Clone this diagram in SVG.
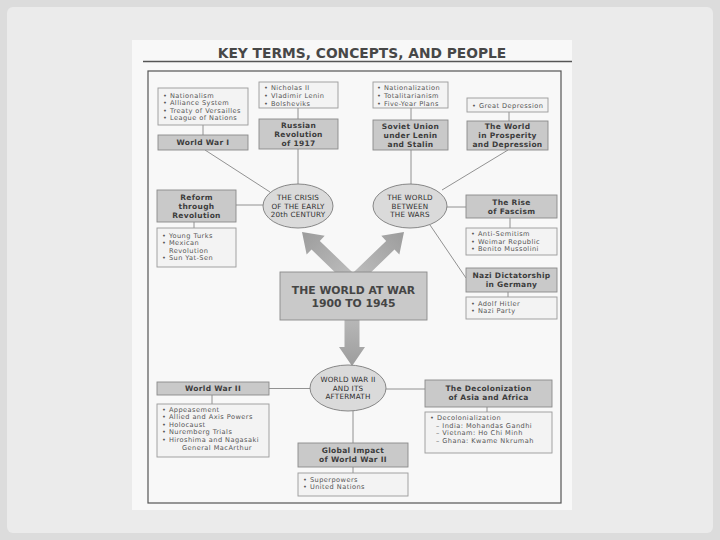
<svg xmlns="http://www.w3.org/2000/svg" width="720" height="540" viewBox="0 0 720 540">
<style>
.lt{font-family:"DejaVu Sans","Liberation Sans",sans-serif;font-size:6.6px;fill:#555;letter-spacing:0.45px}
.tt{font-family:"DejaVu Sans","Liberation Sans",sans-serif;font-weight:bold;font-size:7.5px;fill:#3c3c3c;text-anchor:middle;letter-spacing:0.3px}
.et{font-family:"DejaVu Sans","Liberation Sans",sans-serif;font-size:7.2px;fill:#2e2e2e;text-anchor:middle;letter-spacing:0.2px}
.ct{font-family:"DejaVu Sans","Liberation Sans",sans-serif;font-weight:bold;font-size:10.8px;fill:#454545;text-anchor:middle}
.tb{fill:#c9c9c9;stroke:#8a8a8a;stroke-width:0.9}
.lb{fill:#f3f3f3;stroke:#9a9a9a;stroke-width:0.9}
.el{fill:#dadada;stroke:#7a7a7a;stroke-width:0.9}
.cn line{stroke:#777;stroke-width:0.8}
</style>
<defs>
<linearGradient id="ag" x1="0" y1="0" x2="0" y2="1">
<stop offset="0" stop-color="#9c9c9c"/><stop offset="1" stop-color="#bdbdbd"/>
</linearGradient>
</defs>
<rect x="0" y="0" width="720" height="540" fill="#dcdcdc"/>
<rect x="7" y="7" width="706" height="526" rx="6" fill="#ebebeb"/>
<rect x="132" y="40" width="440" height="470" fill="#f8f8f8"/>
<text x="362" y="58" text-anchor="middle" style="font-family:'DejaVu Sans','Liberation Sans',sans-serif;font-weight:bold;font-size:13.8px;fill:#474747">KEY TERMS, CONCEPTS, AND PEOPLE</text>
<line x1="143" y1="61.5" x2="572" y2="61.5" stroke="#555" stroke-width="1.6"/>
<rect x="148" y="71" width="413" height="432" fill="none" stroke="#555" stroke-width="1.2"/>

<g id="connectors" class="cn">
<line x1="203" y1="125" x2="203" y2="135"/>
<line x1="205" y1="150" x2="270" y2="192"/>
<line x1="298" y1="108" x2="298" y2="119"/>
<line x1="298" y1="149" x2="298" y2="184"/>
<line x1="236" y1="205" x2="263" y2="205"/>
<line x1="194" y1="222" x2="194" y2="228"/>
<line x1="411" y1="108" x2="411" y2="120"/>
<line x1="411" y1="150" x2="411" y2="184"/>
<line x1="509" y1="112" x2="509" y2="121"/>
<line x1="508" y1="150" x2="442" y2="190"/>
<line x1="446" y1="207" x2="466" y2="207"/>
<line x1="510" y1="218" x2="510" y2="228"/>
<line x1="430" y1="225" x2="466" y2="278"/>
<line x1="508" y1="292" x2="508" y2="297"/>
<line x1="269" y1="388.5" x2="310" y2="388.5"/>
<line x1="386" y1="389" x2="425" y2="389"/>
<line x1="212" y1="395" x2="212" y2="404"/>
<line x1="487" y1="407" x2="487" y2="412"/>
<line x1="353" y1="411" x2="353" y2="443"/>
<line x1="353" y1="467" x2="353" y2="473"/>
<polygon points="0,0 13,19 6,19 6,66 -6,66 -6,19 -13,19" fill="url(#ag)" transform="translate(302,232) rotate(-46)"/>
<polygon points="0,0 13,19 6,19 6,66 -6,66 -6,19 -13,19" fill="url(#ag)" transform="translate(404,232) rotate(46)"/>
<polygon points="0,0 13,19 7.5,19 7.5,56 -7.5,56 -7.5,19 -13,19" fill="url(#ag)" transform="translate(352,366) rotate(180)"/>
</g>

<g id="ww1-list"><rect class="lb" x="158" y="88" width="90" height="37"/>
<text class="lt" x="163" y="97.5">• Nationalism</text>
<text class="lt" x="163" y="105.1">• Alliance System</text>
<text class="lt" x="163" y="112.7">• Treaty of Versailles</text>
<text class="lt" x="163" y="120.3">• League of Nations</text></g>
<g id="ww1"><rect class="tb" x="158" y="135" width="90" height="15"/>
<text class="tt" x="203" y="145.2">World War I</text></g>

<g id="russia-list"><rect class="lb" x="259" y="82" width="79" height="26"/>
<text class="lt" x="264" y="90.3">• Nicholas II</text>
<text class="lt" x="264" y="97.9">• Vladimir Lenin</text>
<text class="lt" x="264" y="105.5">• Bolsheviks</text></g>
<g id="russia"><rect class="tb" x="259" y="119" width="79" height="30"/>
<text class="tt" x="298.5" y="127.9">Russian</text>
<text class="tt" x="298.5" y="136.7">Revolution</text>
<text class="tt" x="298.5" y="145.5">of 1917</text></g>

<g id="soviet-list"><rect class="lb" x="373" y="82" width="75" height="26"/>
<text class="lt" x="377" y="90.3">• Nationalization</text>
<text class="lt" x="377" y="97.9">• Totalitarianism</text>
<text class="lt" x="377" y="105.5">• Five-Year Plans</text></g>
<g id="soviet"><rect class="tb" x="373" y="120" width="75" height="30"/>
<text class="tt" x="410.5" y="128.9">Soviet Union</text>
<text class="tt" x="410.5" y="137.7">under Lenin</text>
<text class="tt" x="410.5" y="146.5">and Stalin</text></g>

<g id="depression-list"><rect class="lb" x="467" y="98" width="81" height="14"/>
<text class="lt" x="472" y="107.5">• Great Depression</text></g>
<g id="prosperity"><rect class="tb" x="467" y="121" width="81" height="29"/>
<text class="tt" x="507.5" y="129.4">The World</text>
<text class="tt" x="507.5" y="138.2">in Prosperity</text>
<text class="tt" x="507.5" y="147">and Depression</text></g>

<g id="reform"><rect class="tb" x="157" y="190" width="79" height="32"/>
<text class="tt" x="196.5" y="199.9">Reform</text>
<text class="tt" x="196.5" y="208.7">through</text>
<text class="tt" x="196.5" y="217.5">Revolution</text></g>
<g id="reform-list"><rect class="lb" x="157" y="228" width="79" height="39"/>
<text class="lt" x="162" y="237.5">• Young Turks</text>
<text class="lt" x="162" y="245.1">• Mexican</text>
<text class="lt" x="169" y="252.7">Revolution</text>
<text class="lt" x="162" y="260.3">• Sun Yat-Sen</text></g>

<g id="crisis"><ellipse class="el" cx="298" cy="206" rx="35" ry="22"/>
<text class="et" x="298" y="200.1">THE CRISIS</text>
<text class="et" x="298" y="208.6">OF THE EARLY</text>
<text class="et" x="298" y="217.1">20th CENTURY</text></g>

<g id="between-wars"><ellipse class="el" cx="410" cy="206" rx="37" ry="22"/>
<text class="et" x="410" y="200.1">THE WORLD</text>
<text class="et" x="410" y="208.6">BETWEEN</text>
<text class="et" x="410" y="217.1">THE WARS</text></g>

<g id="fascism"><rect class="tb" x="466" y="195" width="91" height="23"/>
<text class="tt" x="511.5" y="204.8">The Rise</text>
<text class="tt" x="511.5" y="213.6">of Fascism</text></g>
<g id="fascism-list"><rect class="lb" x="466" y="228" width="91" height="27"/>
<text class="lt" x="471" y="236">• Anti-Semitism</text>
<text class="lt" x="471" y="243.6">• Weimar Republic</text>
<text class="lt" x="471" y="251.2">• Benito Mussolini</text></g>
<g id="nazi"><rect class="tb" x="466" y="268" width="91" height="24"/>
<text class="tt" x="511.5" y="278.3">Nazi Dictatorship</text>
<text class="tt" x="511.5" y="287.1">in Germany</text></g>
<g id="nazi-list"><rect class="lb" x="466" y="297" width="91" height="22"/>
<text class="lt" x="471" y="305.5">• Adolf Hitler</text>
<text class="lt" x="471" y="313.1">• Nazi Party</text></g>

<g id="world-at-war"><rect class="tb" x="280" y="272" width="147" height="48"/>
<text class="ct" x="353.5" y="294">THE WORLD AT WAR</text>
<text class="ct" x="353.5" y="307">1900 TO 1945</text></g>

<g id="ww2"><rect class="tb" x="157" y="382" width="112" height="13"/>
<text class="tt" x="213" y="391.2">World War II</text></g>
<g id="ww2-list"><rect class="lb" x="157" y="404" width="112" height="53"/>
<text class="lt" x="162" y="411.5">• Appeasement</text>
<text class="lt" x="162" y="419.1">• Allied and Axis Powers</text>
<text class="lt" x="162" y="426.7">• Holocaust</text>
<text class="lt" x="162" y="434.3">• Nuremberg Trials</text>
<text class="lt" x="162" y="441.9">• Hiroshima and Nagasaki</text>
<text class="lt" x="182" y="449.5">General MacArthur</text></g>

<g id="aftermath"><ellipse class="el" cx="348" cy="388" rx="38" ry="23"/>
<text class="et" x="348" y="382.1">WORLD WAR II</text>
<text class="et" x="348" y="390.6">AND ITS</text>
<text class="et" x="348" y="399.1">AFTERMATH</text></g>

<g id="decolonization"><rect class="tb" x="425" y="380" width="127" height="27"/>
<text class="tt" x="488.5" y="391.4">The Decolonization</text>
<text class="tt" x="488.5" y="400.2">of Asia and Africa</text></g>
<g id="decolonization-list"><rect class="lb" x="425" y="412" width="127" height="41"/>
<text class="lt" x="430" y="420">• Decolonialization</text>
<text class="lt" x="436" y="427.6">– India: Mohandas Gandhi</text>
<text class="lt" x="436" y="435.2">– Vietnam: Ho Chi Minh</text>
<text class="lt" x="436" y="442.8">– Ghana: Kwame Nkrumah</text></g>

<g id="global-impact"><rect class="tb" x="298" y="443" width="110" height="24"/>
<text class="tt" x="353" y="453.3">Global Impact</text>
<text class="tt" x="353" y="462.1">of World War II</text></g>
<g id="global-list"><rect class="lb" x="298" y="473" width="110" height="23"/>
<text class="lt" x="303" y="481.5">• Superpowers</text>
<text class="lt" x="303" y="489.1">• United Nations</text></g>
</svg>
